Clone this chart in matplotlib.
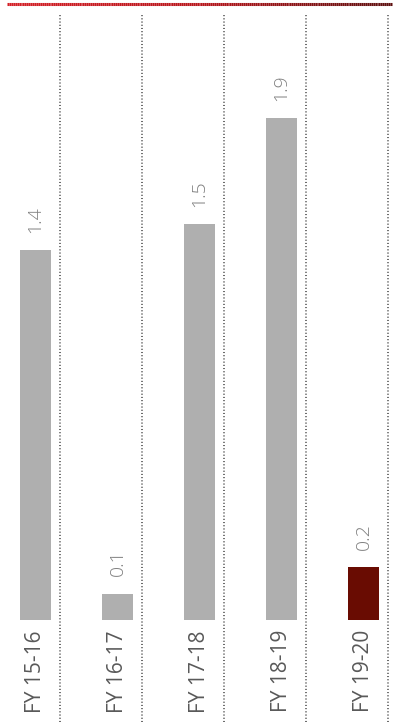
import numpy as np
import matplotlib.pyplot as plt
from matplotlib.collections import LineCollection
from matplotlib.colors import LinearSegmentedColormap

# values per financial year
years = ["FY 15-16", "FY 16-17", "FY 17-18", "FY 18-19", "FY 19-20"]
values = [1.4, 0.1, 1.5, 1.9, 0.2]
bar_colors = ["#afafaf", "#afafaf", "#afafaf", "#afafaf", "#690c02"]

plt.rcParams['font.family'] = ['Open Sans', 'DejaVu Sans']

fig = plt.figure(figsize=(3.96, 7.22), dpi=100)
ax = fig.add_axes([0, 0, 1, 1])
ax.set_xlim(-0.433, 4.396)
ax.set_ylim(-0.386, 2.348)
ax.axis('off')

x = np.arange(len(years))
ax.bar(x, values, width=0.378, color=bar_colors, zorder=2)

# dotted separators to the right of each bar
ax.vlines(x + 0.299, -0.386, 2.299, colors="#404040", linewidth=1.1,
          linestyles=(0, (0.7, 1.4)), zorder=1)

for xi, v, lab in zip(x, values, years):
    ax.text(xi, v + 0.066, f"{v:.1f}", rotation=90, ha='center', va='bottom',
            fontsize=14, color="#7f7f7f", fontweight='light')
    ax.text(xi, -0.038, lab, rotation=90, ha='center', va='top',
            fontsize=15, color="#595959", fontweight='normal')

# red gradient rule along the top
xs = np.linspace(7 / 396, 392 / 396, 200)
segs = [[(xs[i], 1 - 4 / 722), (xs[i + 1], 1 - 4 / 722)] for i in range(len(xs) - 1)]
cmap = LinearSegmentedColormap.from_list("rule", ["#d42027", "#b8161c", "#5e1010"])
lc = LineCollection(segs, colors=cmap(np.linspace(0, 1, len(segs))),
                    linewidth=2.2, transform=fig.transFigure)
fig.add_artist(lc)

fig.savefig("out.png", dpi=100)
